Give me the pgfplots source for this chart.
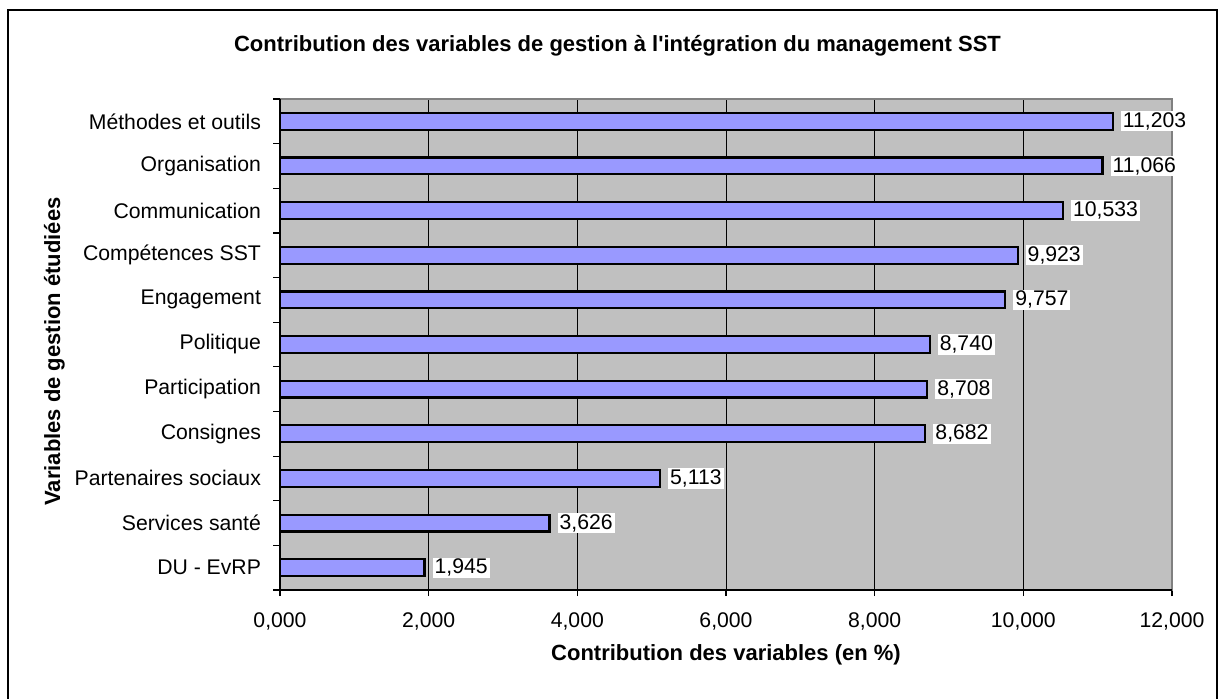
\documentclass[border=0pt]{standalone}
\usepackage{fontspec}
\setmainfont{Liberation Sans}
\usepackage{pgfplots}
\pgfplotsset{compat=1.18}
\definecolor{barblue}{HTML}{9999FF}
\definecolor{plotgray}{HTML}{C0C0C0}
\definecolor{edgegray}{HTML}{808080}
\begin{document}
\begin{tikzpicture}[x=1pt,y=1pt]
\useasboundingbox (0,0) rectangle (612,349);
\draw[line width=0.75pt] (4,-2) rectangle (608.5,344);
\begin{axis}[
  at={(140pt,54pt)}, anchor=south west,
  scale only axis, width=446pt, height=245.5pt,
  xmin=0, xmax=12, ymin=-0.5, ymax=10.5,
  clip=false,
  xbar, bar width=8.4pt,
  axis background/.style={fill=plotgray},
  axis line style={edgegray},
  xtick={0,2,...,12},
  ytick={0,...,10},
  yticklabels={DU - EvRP, Services santé, Partenaires sociaux, Consignes, Participation, Politique, Engagement, Compétences SST, Communication, Organisation, Méthodes et outils},
  minor ytick={-0.5,0.5,...,10.5},
  xtick pos=bottom, ytick pos=left,
  tick align=outside,
  major tick length=3pt,
  minor tick length=3.5pt,
  major y tick style={draw=none},
  minor y tick style={black, line width=0.6pt},
  major x tick style={black, line width=0.6pt},
  xmajorgrids,
  major grid style={black, line width=0.5pt},
  tick label style={font=\fontsize{10.6}{12}\selectfont},
  yticklabel style={xshift=-3pt},
  xticklabel style={yshift=-5pt},
  /pgf/number format/.cd, fixed, fixed zerofill, precision=3, use comma, assume math mode=true,
  /pgfplots/.cd,
  nodes near coords,
  point meta=x,
  every node near coord/.style={anchor=west, fill=white, inner xsep=1pt, inner ysep=0.7pt, xshift=3.5pt, font=\fontsize{10.6}{12}\selectfont},
]
\addplot[fill=barblue, draw=black, line width=1.1pt] coordinates {
  (1.945,0) (3.626,1) (5.113,2) (8.682,3) (8.708,4) (8.740,5)
  (9.757,6) (9.923,7) (10.533,8) (11.066,9) (11.203,10)
};
\draw[edgegray, line width=0.75pt] (rel axis cs:0,1) -- (rel axis cs:1,1) -- (rel axis cs:1,0);
\draw[black, line width=0.75pt] (rel axis cs:0,1) -- (rel axis cs:0,0) -- (rel axis cs:1,0);
\end{axis}
\node[anchor=base, font=\bfseries\fontsize{11}{13}\selectfont] at (308.75,323.2) {Contribution des variables de gestion à l\textquotesingle intégration du management SST};
\node[anchor=base, font=\bfseries\fontsize{11}{13}\selectfont] at (363,19) {Contribution des variables (en \%)};
\node[anchor=base, rotate=90, font=\bfseries\fontsize{11}{13}\selectfont] at (30,173.25) {Variables de gestion étudiées};
\end{tikzpicture}
\end{document}
